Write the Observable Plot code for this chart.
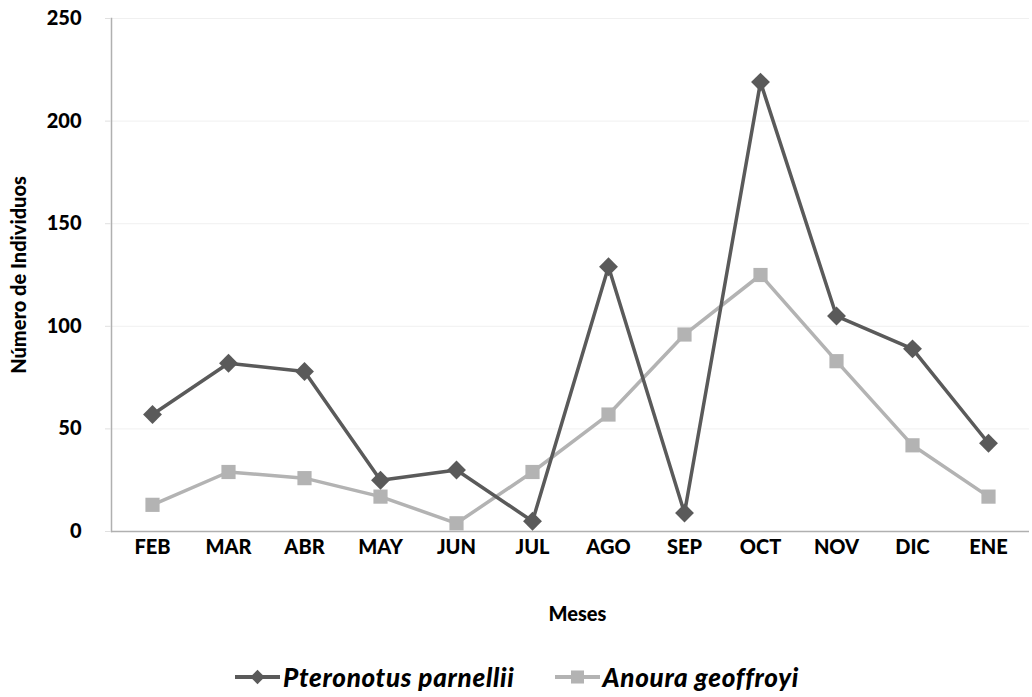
<!DOCTYPE html>
<html>
<head>
<meta charset="utf-8">
<script src="https://cdn.jsdelivr.net/npm/d3@7"></script>
<script src="https://cdn.jsdelivr.net/npm/@observablehq/plot@0.6"></script>
<style>
  html, body { margin: 0; padding: 0; background: #fff; }
  body { width: 1032px; height: 697px; overflow: hidden; font-family: Lato, "Open Sans", sans-serif; }
  #legend { position: absolute; left: 0; top: 662px; width: 1032px; display: flex; justify-content: flex-start; gap: 40px; font-style: italic; font-weight: 900; font-size: 26px; line-height: 30px; letter-spacing: 0.7px; color: #000; padding-left: 235px; box-sizing: border-box; }
  #legend .item { display: flex; align-items: center; gap: 3px; }
</style>
</head>
<body>
<div id="chart"></div>
<div id="legend"></div>
<script>
const months = ["FEB","MAR","ABR","MAY","JUN","JUL","AGO","SEP","OCT","NOV","DIC","ENE"];
const pteronotus = [57, 82, 78, 25, 30, 5, 129, 9, 219, 105, 89, 43];
const anoura = [13, 29, 26, 17, 4, 29, 57, 96, 125, 83, 42, 17];
const seriesNames = ["Pteronotus parnellii", "Anoura geoffroyi"];
const yTicks = [0, 50, 100, 150, 200, 250];
const colors = ["#5a5a5a", "#b3b3b3"];

const data = [
  ...months.map((m, i) => ({month: m, value: pteronotus[i], series: seriesNames[0]})),
  ...months.map((m, i) => ({month: m, value: anoura[i], series: seriesNames[1]}))
];
const dP = data.filter(d => d.series === seriesNames[0]);
const dA = data.filter(d => d.series === seriesNames[1]);

const chart = Plot.plot({
  width: 1032,
  height: 650,
  marginLeft: 111,
  marginRight: 3,
  marginTop: 18,
  marginBottom: 119,
  style: {fontFamily: "Lato, 'Open Sans', sans-serif", fontWeight: "900", fontSize: "20px", color: "#000", background: "#fff"},
  x: {type: "point", domain: months, padding: 0.5},
  y: {domain: [0, 250]},
  marks: [
    Plot.gridY(yTicks, {stroke: "#f0f0f0", strokeOpacity: 1}),
    Plot.frame({anchor: "left", stroke: "#b0b0b0", strokeWidth: 1.5}),
    Plot.ruleY([0], {stroke: "#b0b0b0", strokeWidth: 1.5}),
    Plot.axisY({ticks: yTicks, tickSize: 6, tickPadding: 24, stroke: "#e0e0e0", fill: "#000", label: "Número de Individuos", labelAnchor: "center", labelArrow: "none", labelOffset: 100, fontSize: 20}),
    Plot.axisX({tickSize: 0, tickPadding: 8, label: null, fontSize: 20}),
    Plot.text(["Meses"], {frameAnchor: "bottom", dy: 89, dx: 7, fontSize: 20, fontWeight: "900", fill: "#000"}),
    Plot.line(dA, {x: "month", y: "value", stroke: colors[1], strokeWidth: 3.5}),
    Plot.line(dP, {x: "month", y: "value", stroke: colors[0], strokeWidth: 3.5}),
    Plot.dot(dA, {x: "month", y: "value", symbol: "square", r: 8, fill: colors[1], stroke: "none"}),
    Plot.dot(dP, {x: "month", y: "value", symbol: "diamond2", r: 8.5, fill: colors[0], stroke: "none"})
  ]
});
document.getElementById("chart").appendChild(chart);

// legend
const legend = document.getElementById("legend");
seriesNames.forEach((name, i) => {
  const item = document.createElement("div");
  item.className = "item";
  const svg = d3.create("svg").attr("width", 45).attr("height", 22);
  svg.append("line").attr("x1", 0).attr("x2", 45).attr("y1", 11).attr("y2", 11).attr("stroke", colors[i]).attr("stroke-width", 4);
  const sym = d3.symbol(i === 0 ? d3.symbolDiamond2 : d3.symbolSquare, i === 0 ? 130 : 170);
  svg.append("path").attr("d", sym()).attr("transform", "translate(22.5,11)").attr("fill", colors[i]);
  item.appendChild(svg.node());
  const span = document.createElement("span");
  span.textContent = name;
  item.appendChild(span);
  legend.appendChild(item);
});
</script>
</body>
</html>
